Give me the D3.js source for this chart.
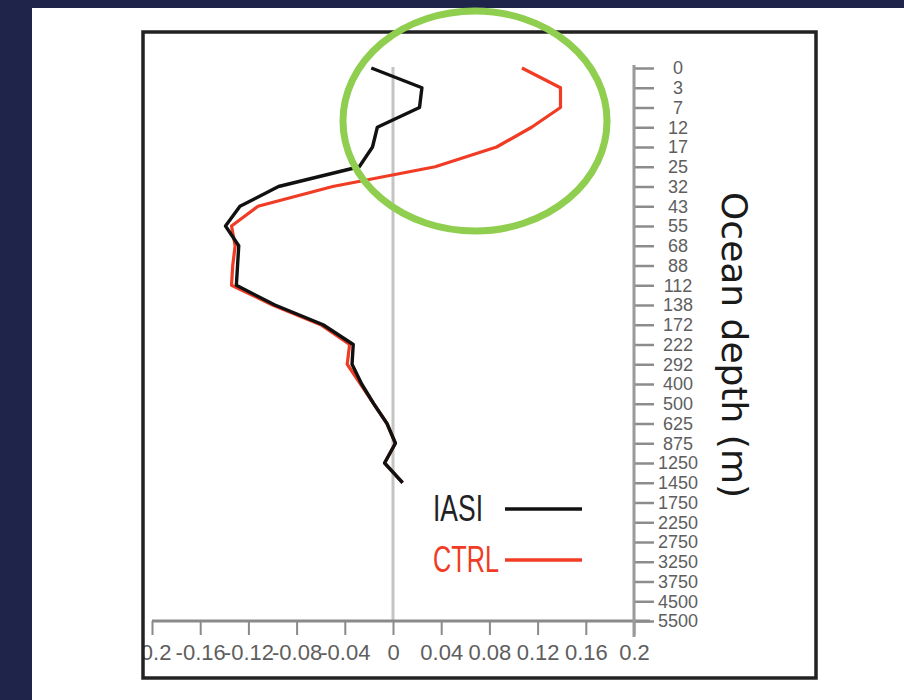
<!DOCTYPE html>
<html>
<head>
<meta charset="utf-8">
<title>Ocean depth profile</title>
<script src="https://d3js.org/d3.v7.min.js"></script>
<style>
body { margin: 0; background: #1f244a; }
svg { display: block; }
.tick text { font-family: 'Liberation Sans Narrow', 'Liberation Sans', Arial, sans-serif; fill: #5e5e5e; }
</style>
</head>
<body>
<div id="chart"></div>
<script>

// depth levels (m) on the right axis, top to bottom
var depthLabels = ["0", "3", "7", "12", "17", "25", "32", "43", "55", "68", "88", "112", "138", "172",
  "222", "292", "400", "500", "625", "875", "1250", "1450", "1750", "2250", "2750", "3250", "3750", "4500", "5500"];

// profile values, one per level from the surface down
var iasiValues = [-0.018, 0.024, 0.022, -0.013, -0.017, -0.028, -0.095, -0.127, -0.139, -0.128, -0.129, -0.130,
  -0.098, -0.058, -0.033, -0.034, -0.026, -0.016, -0.005, 0.002, -0.007, 0.008];
var ctrlValues = [0.107, 0.139, 0.139, 0.115, 0.086, 0.035, -0.050, -0.112, -0.134, -0.131, -0.133, -0.134,
  -0.100, -0.060, -0.036, -0.038, -0.027, -0.016, -0.005, 0.002, -0.007, 0.008];

var xTicks = [-0.2, -0.16, -0.12, -0.08, -0.04, 0, 0.04, 0.08, 0.12, 0.16, 0.2];
var seriesNames = ["IASI", "CTRL"];
var seriesColors = ["#111111", "#f03c24"];

var W = 904, H = 700;

var svg = d3.select("#chart").append("svg")
  .attr("width", W)
  .attr("height", H);

// navy slide + white panel
svg.append("rect").attr("width", W).attr("height", H).attr("fill", "#1f244a");
svg.append("rect").attr("x", 32).attr("y", 8).attr("width", W - 32).attr("height", H - 8).attr("fill", "#ffffff");

var frame = {left: 143, top: 32, right: 816, bottom: 678};

svg.append("clipPath").attr("id", "frameClip")
  .append("rect")
  .attr("x", frame.left).attr("y", frame.top)
  .attr("width", frame.right - frame.left).attr("height", frame.bottom - frame.top);

var x = d3.scaleLinear().domain([-0.2, 0.2]).range([152, 634]);
var y = d3.scalePoint().domain(depthLabels).range([68, 621]);

var plot = svg.append("g").attr("clip-path", "url(#frameClip)");

// zero line
plot.append("line")
  .attr("x1", x(0)).attr("x2", x(0))
  .attr("y1", y.range()[0] - 1).attr("y2", y.range()[1])
  .attr("stroke", "#c4c4c4").attr("stroke-width", 3);

// bottom axis
var xAxis = plot.append("g")
  .attr("transform", "translate(0," + y.range()[1] + ")")
  .call(d3.axisBottom(x).tickValues(xTicks).tickSize(14).tickPadding(10)
    .tickFormat(function(d) { return String(+d.toFixed(2)); }));
xAxis.select(".domain").remove();
xAxis.selectAll(".tick line").attr("stroke", "#8a8a8a").attr("stroke-width", 2);
xAxis.selectAll(".tick text").attr("font-size", 22).attr("dy", "0.7em");
xAxis.append("line")
  .attr("x1", x.range()[0]).attr("x2", x.range()[1] + 16)
  .attr("stroke", "#8a8a8a").attr("stroke-width", 3);

// right depth axis
var yAxis = plot.append("g")
  .attr("transform", "translate(" + x.range()[1] + ",0)")
  .call(d3.axisRight(y).tickSize(20).tickPadding(24));
yAxis.select(".domain").remove();
yAxis.selectAll(".tick line").attr("stroke", "#8c8c8c").attr("stroke-width", 2.5);
yAxis.selectAll(".tick text").attr("font-size", 18).attr("text-anchor", "middle").attr("x", 44);
yAxis.append("line")
  .attr("y1", y.range()[0] - 3).attr("y2", y.range()[1] + 16)
  .attr("stroke", "#9a9a9a").attr("stroke-width", 3);

// profiles
var line = d3.line()
  .x(function(d) { return x(d.v); })
  .y(function(d) { return y(d.depth); });

function toPoints(vals) {
  return vals.map(function(v, i) { return {depth: depthLabels[i], v: v}; });
}

plot.append("path")
  .datum(toPoints(ctrlValues))
  .attr("d", line)
  .attr("fill", "none").attr("stroke", seriesColors[1]).attr("stroke-width", 3.2)
  .attr("stroke-linejoin", "round");

plot.append("path")
  .datum(toPoints(iasiValues))
  .attr("d", line)
  .attr("fill", "none").attr("stroke", seriesColors[0]).attr("stroke-width", 3.4)
  .attr("stroke-linejoin", "round");

// legend
var legend = svg.append("g");
seriesNames.forEach(function(name, i) {
  var ly = 521 + i * 51;
  legend.append("text")
    .attr("x", 433).attr("y", ly)
    .attr("font-family", "'Liberation Sans Narrow', 'Liberation Sans', Arial, sans-serif")
    .attr("font-size", 37)
    .attr("textLength", i === 0 ? 50 : 66)
    .attr("lengthAdjust", "spacingAndGlyphs")
    .attr("fill", i === 0 ? "#222" : seriesColors[1])
    .text(name);
  legend.append("line")
    .attr("x1", 505).attr("x2", 582)
    .attr("y1", ly - 12).attr("y2", ly - 12)
    .attr("stroke", seriesColors[i]).attr("stroke-width", 3.5);
});

// axis title
svg.append("text")
  .attr("transform", "translate(722,345) rotate(90)")
  .attr("text-anchor", "middle")
  .attr("font-family", "'DejaVu Sans', Verdana, sans-serif")
  .attr("font-size", 36)
  .attr("fill", "#1a1a1a")
  .text("Ocean depth (m)");

// frame
svg.append("rect")
  .attr("x", frame.left).attr("y", frame.top)
  .attr("width", frame.right - frame.left).attr("height", frame.bottom - frame.top)
  .attr("fill", "none").attr("stroke", "#222").attr("stroke-width", 3.5);

// highlight ring
svg.append("ellipse")
  .attr("cx", 475).attr("cy", 121).attr("rx", 132).attr("ry", 110)
  .attr("fill", "none").attr("stroke", "#8fce4f").attr("stroke-width", 7);

</script>
</body>
</html>
